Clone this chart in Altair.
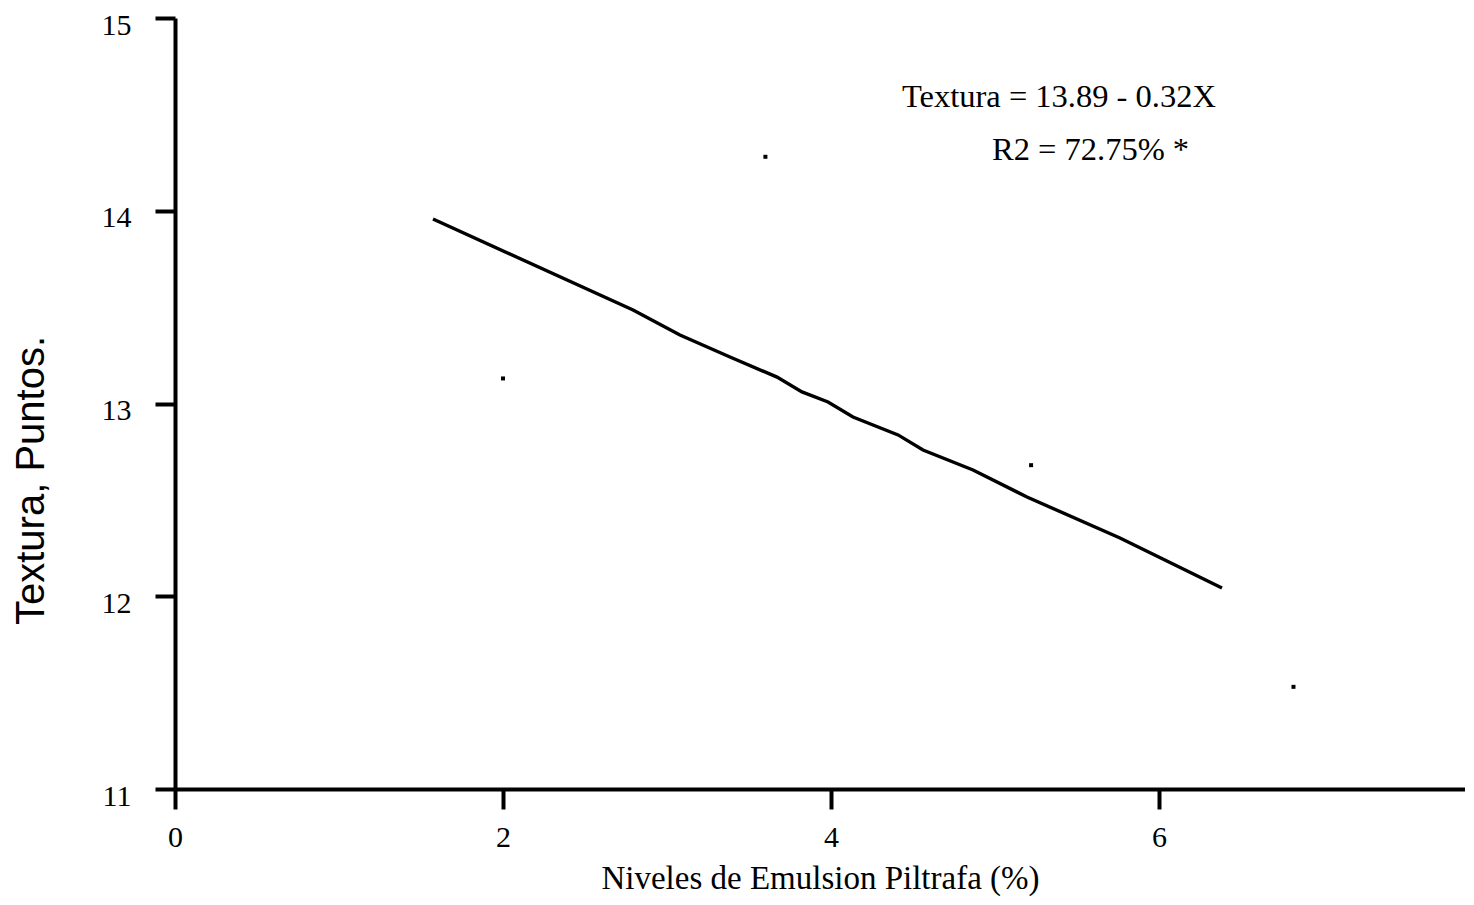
import altair as alt
import pandas as pd

# Observed data points
pts_x = [2.0, 3.6, 5.22, 6.82]
pts_y = [13.13, 14.28, 12.68, 11.53]

# Fitted curve as drawn
line_x = [1.573, 2.793, 3.079, 3.384, 3.671, 3.823, 3.982, 4.134, 4.409, 4.561, 4.866, 5.195, 5.762, 6.384]
line_y = [13.957, 13.485, 13.355, 13.241, 13.137, 13.060, 13.008, 12.930, 12.837, 12.759, 12.655, 12.515, 12.302, 12.043]

x_ticks = [0, 2, 4, 6]
y_ticks = [11, 12, 13, 14, 15]

eq_text = "Textura = 13.89 - 0.32X"
r2_text = "R2 = 72.75% *"

serif = "Liberation Serif"
sans = "Liberation Sans"

pts = pd.DataFrame({"x": pts_x, "y": pts_y})
ln = pd.DataFrame({"x": line_x, "y": line_y})

xscale = alt.Scale(domain=[0, 1290 / 164], nice=False, zero=False)
yscale = alt.Scale(domain=[11, 15], nice=False, zero=False)

xaxis = alt.Axis(
    values=x_ticks, format="d", title="Niveles de Emulsion Piltrafa (%)", titleFont=serif,
    titleFontSize=33, titleFontWeight="normal", titleColor="black", titlePadding=10,
    labelFont=serif, labelFontSize=30, labelColor="black", labelPadding=13,
    domainColor="black", domainWidth=4, tickColor="black", tickWidth=4, tickSize=20,
    grid=False, labelFlush=False,
)
yaxis = alt.Axis(
    values=y_ticks, format="d", title="Textura, Puntos.", titleFont=sans, titleFontSize=40,
    titleFontWeight="normal", titleColor="black", titleAngle=270, titleX=-132, titleY=462,
    titleAlign="center", titleBaseline="alphabetic",
    labelFont=serif, labelFontSize=30, labelColor="black", labelPadding=24, labelOffset=7,
    domainColor="black", domainWidth=4, tickColor="black", tickWidth=4, tickSize=20,
    grid=False, labelFlush=False,
)

line = alt.Chart(ln).mark_line(color="black", strokeWidth=3.4).encode(
    x=alt.X("x:Q", scale=xscale, axis=xaxis),
    y=alt.Y("y:Q", scale=yscale, axis=yaxis),
)

points = alt.Chart(pts).mark_square(color="black", size=16, opacity=1).encode(
    x=alt.X("x:Q", scale=xscale),
    y=alt.Y("y:Q", scale=yscale),
)

eq = alt.Chart(alt.Data(values=[{"t": eq_text}])).mark_text(
    font=serif, fontSize=32.5, align="left", baseline="alphabetic", color="black"
).encode(x=alt.value(727), y=alt.value(89), text="t:N")

r2 = alt.Chart(alt.Data(values=[{"t": r2_text}])).mark_text(
    font=serif, fontSize=32.5, align="left", baseline="alphabetic", color="black"
).encode(x=alt.value(817), y=alt.value(142), text="t:N")

chart = alt.layer(line, points, eq, r2).properties(
    width=1290, height=771,
    padding={"left": 167, "top": 10, "right": 0, "bottom": 110},
    autosize=alt.AutoSizeParams(type="none"),
).configure(
    background="white",
    view=alt.ViewConfig(stroke="transparent", strokeWidth=0),
)

chart.save("out.html", embed_options={"renderer": "svg", "actions": False})
